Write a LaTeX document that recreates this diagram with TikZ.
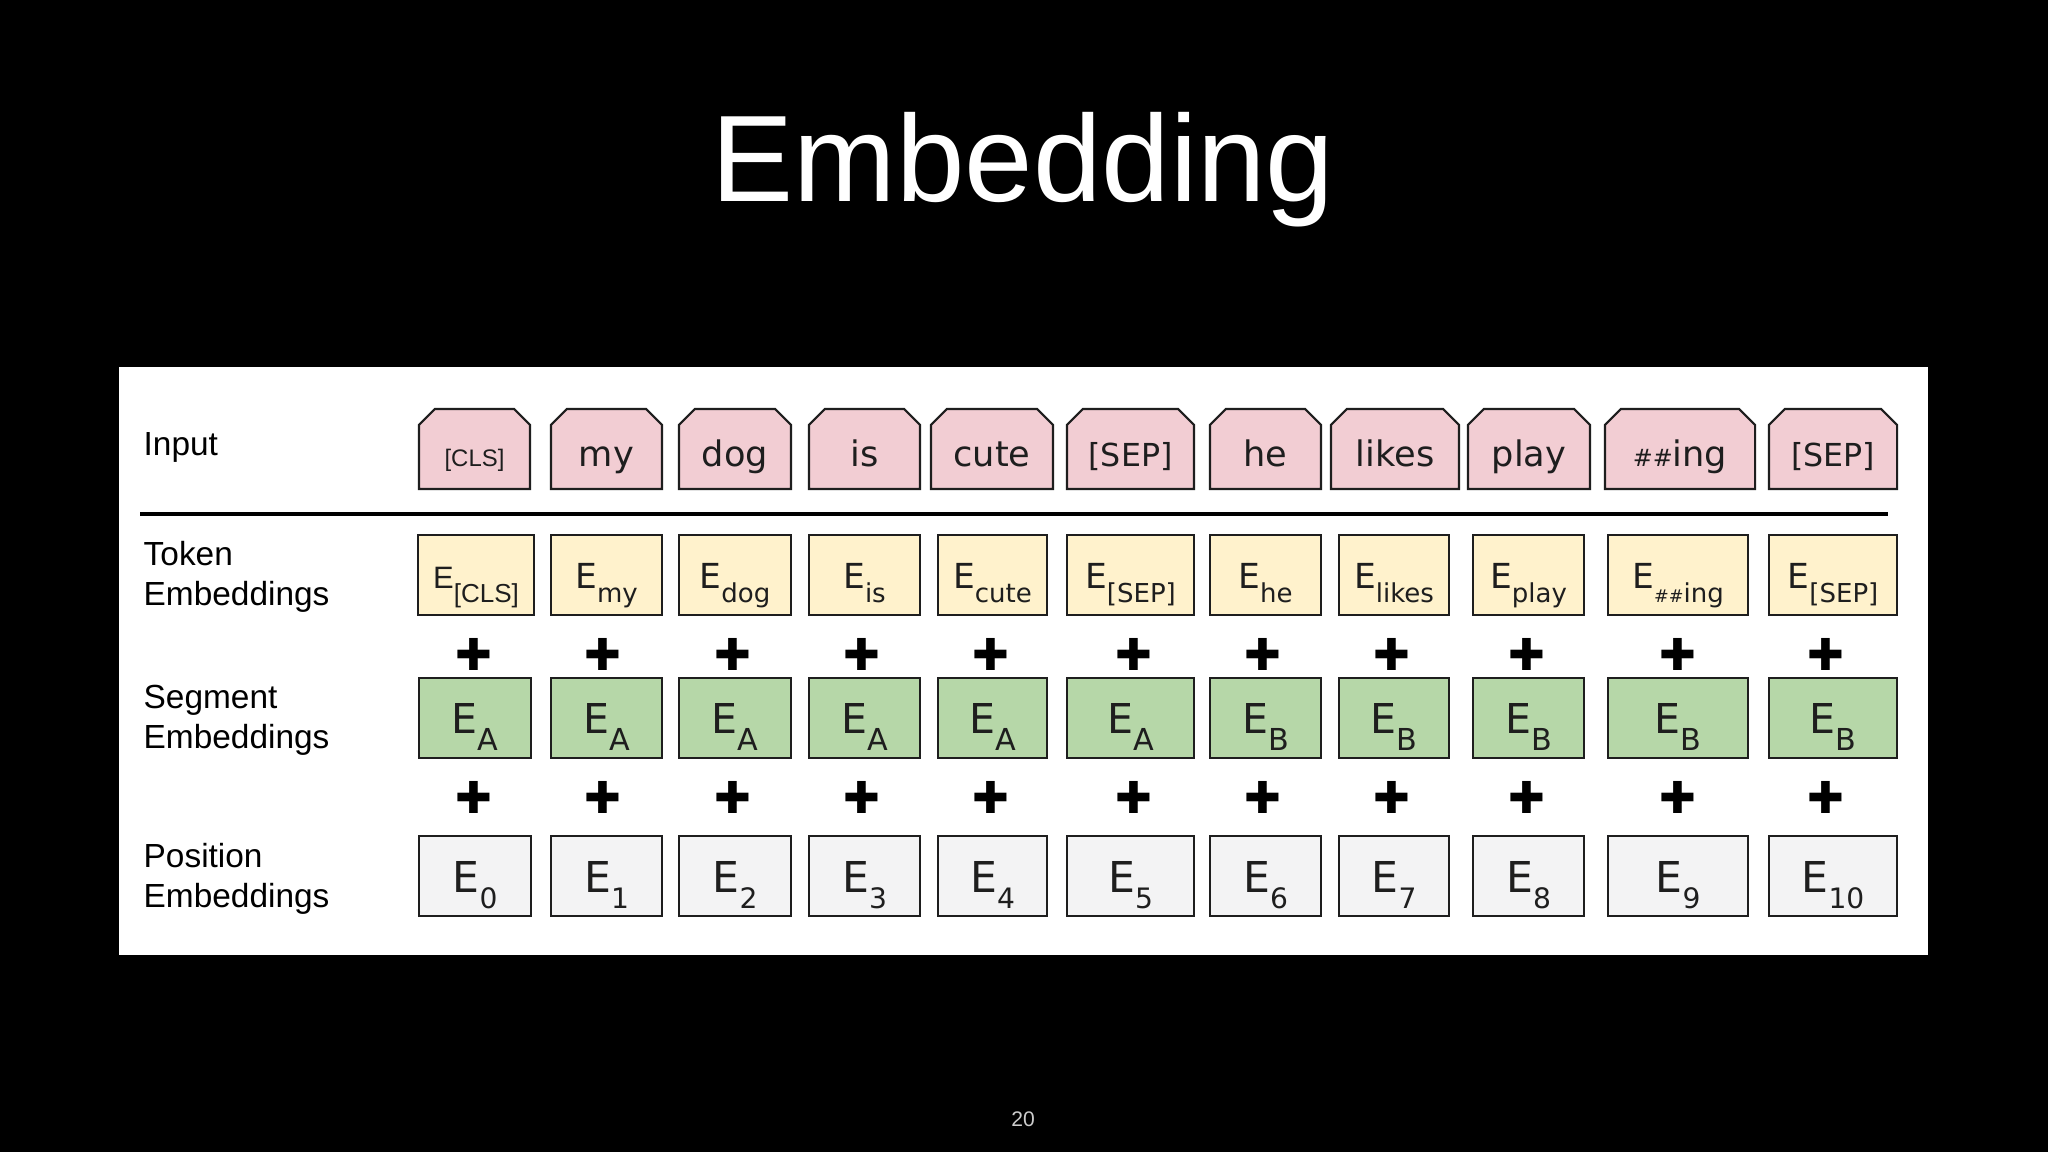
\documentclass[tikz,border=0pt]{standalone}
\usepackage{fontspec}
\setmainfont{Liberation Sans}
\newfontfamily\dejavu{DejaVu Sans}
\usetikzlibrary{shapes.misc}
\definecolor{inpink}{HTML}{F2CDD3}
\definecolor{tokyellow}{HTML}{FFF2CC}
\definecolor{seggreen}{HTML}{B6D7A8}
\definecolor{posgray}{HTML}{F3F3F4}
\definecolor{ink}{HTML}{1E1E1E}
\newcommand{\tsub}[1]{\raisebox{-1.4mm}{\fontsize{7.4}{8}\selectfont #1}}
\newcommand{\ssub}[1]{\raisebox{-1.7mm}{\fontsize{8.6}{9}\selectfont #1}}
\newcommand{\psub}[1]{\raisebox{-1.6mm}{\fontsize{8}{9}\selectfont #1}}
\newcommand{\dblhash}{{\fontsize{6.8}{8}\selectfont\#\#}}
\tikzstyle{box} = [draw=ink, line width=0.6pt, text=ink, inner sep=0pt, minimum height=8mm, text depth=0mm]
\tikzstyle{inp} = [box, fill=inpink, chamfered rectangle, chamfered rectangle corners={north west,north east}, chamfered rectangle xsep=0.8mm, chamfered rectangle ysep=0.8mm, text height=3.4mm, font={\dejavu\fontsize{10}{12}\selectfont}]
\tikzstyle{tok} = [box, fill=tokyellow, text height=2.6mm, font={\dejavu\fontsize{9.8}{12}\selectfont}]
\tikzstyle{seg} = [box, fill=seggreen, text height=3mm, font={\dejavu\fontsize{11.7}{14}\selectfont}]
\tikzstyle{posrow} = [box, fill=posgray, text height=3.2mm, font={\dejavu\fontsize{12.1}{14}\selectfont}]
\tikzstyle{rowlabel} = [anchor=base west, inner sep=0pt, align=left, text=black, font={\fontsize{9.5}{11.1}\selectfont}]
\tikzstyle{plus} = [inner sep=0pt, text=black, font={\dejavu\fontsize{12.5}{12.5}\selectfont}]

\begin{document}
\begin{tikzpicture}[x=0.01cm,y=-0.01cm]
    \fill[black] (0,0) rectangle (2048,1152);
    \node[anchor=base, text=white, font={\fontsize{35}{40}\selectfont}](title) at (1023,202){Embedding};
    \fill[white] (119,367) rectangle (1928,955);
    % row labels (base = last line)
    \node[rowlabel](linput) at (143,456){Input};
    \node[rowlabel](ltok) at (143,605){Token\\Embeddings};
    \node[rowlabel](lseg) at (143,748){Segment\\Embeddings};
    \node[rowlabel](lpos) at (143,907){Position\\Embeddings};
    % input
    \node[inp, minimum width=11.1mm](in0) at (474.5,449){{\normalfont\fontsize{6.8}{8}\selectfont [CLS]}};
    \node[inp, minimum width=11.1mm](in1) at (606.5,449){my};
    \node[inp, minimum width=11.2mm](in2) at (735,449){dog};
    \node[inp, minimum width=11.1mm](in3) at (864.5,449){is};
    \node[inp, minimum width=12.2mm](in4) at (992,449){cute};
    \node[inp, minimum width=12.7mm](in5) at (1130.5,449){{\fontsize{9}{10}\selectfont [SEP]}};
    \node[inp, minimum width=11.1mm](in6) at (1265.5,449){he};
    \node[inp, minimum width=12.8mm](in7) at (1395,449){likes};
    \node[inp, minimum width=12.2mm](in8) at (1529,449){play};
    \node[inp, minimum width=15mm](in9) at (1680,449){\dblhash ing};
    \node[inp, minimum width=12.8mm](in10) at (1833,449){{\fontsize{9}{10}\selectfont [SEP]}};
    \draw[line width=1.4pt] (140,514) -- (1888,514);
    % token embeddings
    \node[tok, minimum width=11.6mm](tok0) at (476,575){{\normalfont\fontsize{8.8}{10}\selectfont E\tsub{[CLS]}}};
    \node[tok, minimum width=11.1mm](tok1) at (606.5,575){E\tsub{my}};
    \node[tok, minimum width=11.2mm](tok2) at (735,575){E\tsub{dog}};
    \node[tok, minimum width=11.1mm](tok3) at (864.5,575){E\tsub{is}};
    \node[tok, minimum width=10.9mm](tok4) at (992.5,575){E\tsub{cute}};
    \node[tok, minimum width=12.7mm](tok5) at (1130.5,575){E\tsub{[SEP]}};
    \node[tok, minimum width=11.1mm](tok6) at (1265.5,575){E\tsub{he}};
    \node[tok, minimum width=11mm](tok7) at (1394,575){E\tsub{likes}};
    \node[tok, minimum width=11.1mm](tok8) at (1528.5,575){E\tsub{play}};
    \node[tok, minimum width=14mm](tok9) at (1678,575){E\tsub{{\fontsize{5}{6}\selectfont\#\#}ing}};
    \node[tok, minimum width=12.8mm](tok10) at (1833,575){E\tsub{[SEP]}};
    % plus signs
    \node[plus](pa0) at (474,654){✚};
    \node[plus](pa1) at (603,654){✚};
    \node[plus](pa2) at (733,654){✚};
    \node[plus](pa3) at (862,654){✚};
    \node[plus](pa4) at (991,654){✚};
    \node[plus](pa5) at (1134,654){✚};
    \node[plus](pa6) at (1263,654){✚};
    \node[plus](pa7) at (1392,654){✚};
    \node[plus](pa8) at (1527,654){✚};
    \node[plus](pa9) at (1678,654){✚};
    \node[plus](pa10) at (1826,654){✚};
    % segment embeddings
    \node[seg, minimum width=11.2mm](seg0) at (475,718){E\ssub{A}};
    \node[seg, minimum width=11.1mm](seg1) at (606.5,718){E\ssub{A}};
    \node[seg, minimum width=11.2mm](seg2) at (735,718){E\ssub{A}};
    \node[seg, minimum width=11.1mm](seg3) at (864.5,718){E\ssub{A}};
    \node[seg, minimum width=10.9mm](seg4) at (992.5,718){E\ssub{A}};
    \node[seg, minimum width=12.7mm](seg5) at (1130.5,718){E\ssub{A}};
    \node[seg, minimum width=11.1mm](seg6) at (1265.5,718){E\ssub{B}};
    \node[seg, minimum width=11mm](seg7) at (1394,718){E\ssub{B}};
    \node[seg, minimum width=11.1mm](seg8) at (1528.5,718){E\ssub{B}};
    \node[seg, minimum width=14mm](seg9) at (1678,718){E\ssub{B}};
    \node[seg, minimum width=12.8mm](seg10) at (1833,718){E\ssub{B}};
    % plus signs
    \node[plus](pb0) at (474,797){✚};
    \node[plus](pb1) at (603,797){✚};
    \node[plus](pb2) at (733,797){✚};
    \node[plus](pb3) at (862,797){✚};
    \node[plus](pb4) at (991,797){✚};
    \node[plus](pb5) at (1134,797){✚};
    \node[plus](pb6) at (1263,797){✚};
    \node[plus](pb7) at (1392,797){✚};
    \node[plus](pb8) at (1527,797){✚};
    \node[plus](pb9) at (1678,797){✚};
    \node[plus](pb10) at (1826,797){✚};
    % position embeddings
    \node[posrow, minimum width=11.2mm](pos0) at (475,876){E\psub{0}};
    \node[posrow, minimum width=11.1mm](pos1) at (606.5,876){E\psub{1}};
    \node[posrow, minimum width=11.2mm](pos2) at (735,876){E\psub{2}};
    \node[posrow, minimum width=11.1mm](pos3) at (864.5,876){E\psub{3}};
    \node[posrow, minimum width=10.9mm](pos4) at (992.5,876){E\psub{4}};
    \node[posrow, minimum width=12.7mm](pos5) at (1130.5,876){E\psub{5}};
    \node[posrow, minimum width=11.1mm](pos6) at (1265.5,876){E\psub{6}};
    \node[posrow, minimum width=11mm](pos7) at (1394,876){E\psub{7}};
    \node[posrow, minimum width=11.1mm](pos8) at (1528.5,876){E\psub{8}};
    \node[posrow, minimum width=14mm](pos9) at (1678,876){E\psub{9}};
    \node[posrow, minimum width=12.8mm](pos10) at (1833,876){E\psub{10}};
    \node[text=black!20, font={\fontsize{6}{7}\selectfont}](page) at (1023,1119){20};
\end{tikzpicture}
\end{document}
